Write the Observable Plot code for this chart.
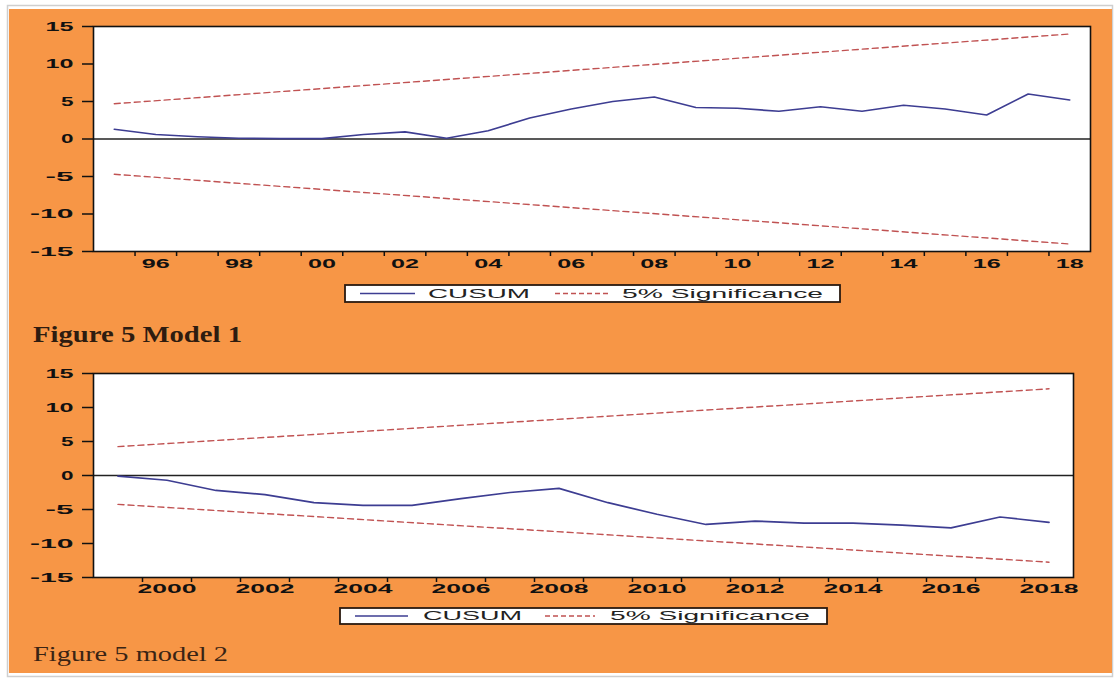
<!DOCTYPE html>
<html><head><meta charset="utf-8">
<script src="https://cdn.jsdelivr.net/npm/d3@7"></script>
<script src="https://cdn.jsdelivr.net/npm/@observablehq/plot@0.6"></script>
<style>
body{margin:0;background:#fff;width:1115px;height:682px;overflow:hidden;position:relative;font-family:"Liberation Sans",Arial,sans-serif;}
#bg{position:absolute;left:0;top:0;}
.panel{position:absolute;left:0;}
</style></head><body>
<svg id="bg" width="1115" height="682"></svg>
<div id="p1" class="panel" style="top:0px"></div>
<div id="p2" class="panel" style="top:340px"></div>
<script>
// ---- data ----
const years1 = [1995,1996,1997,1998,1999,2000,2001,2002,2003,2004,2005,2006,2007,2008,2009,2010,2011,2012,2013,2014,2015,2016,2017,2018];
const cusum1 = [1.3,0.6,0.3,0.1,0.05,0.05,0.6,0.95,0.1,1.1,2.8,4.0,5.0,5.6,4.2,4.1,3.7,4.3,3.7,4.5,4.0,3.2,6.0,5.2];
const boundYears1 = [1995, 2018];
const upper1 = [4.7, 14.0];
const lower1 = [-4.7, -14.0];

const years2 = [1999,2000,2001,2002,2003,2004,2005,2006,2007,2008,2009,2010,2011,2012,2013,2014,2015,2016,2017,2018];
const cusum2 = [-0.1,-0.7,-2.2,-2.8,-4.0,-4.4,-4.4,-3.4,-2.5,-1.9,-4.0,-5.7,-7.2,-6.7,-7.0,-7.0,-7.3,-7.7,-6.1,-6.9];
const boundYears2 = [1999, 2018];
const upper2 = [4.25, 12.75];
const lower2 = [-4.25, -12.75];

const yTicks = [-15,-10,-5,0,5,10,15];
const xLabels1 = [1996,1998,2000,2002,2004,2006,2008,2010,2012,2014,2016,2018];
const xLabels2 = [2000,2002,2004,2006,2008,2010,2012,2014,2016,2018];
const legendLabels = ["CUSUM", "5% Significance"];
const captions = ["Figure 5 Model 1", "Figure 5 model 2"];

// ---- background ----
const bg = d3.select("#bg");
bg.append("rect").attr("x",7.5).attr("y",5.5).attr("width",1105).attr("height",671)
  .attr("fill","#fff").attr("stroke","#cfcfcf").attr("stroke-width",1.5);
bg.append("rect").attr("x",9).attr("y",9).attr("width",1103).attr("height",664).attr("fill","#F79646");
bg.append("text").attr("x",33).attr("y",342).attr("font-family","Liberation Serif, serif")
  .attr("font-weight","bold").attr("font-size",23).attr("fill","#2e1c10")
  .attr("textLength",209).attr("lengthAdjust","spacingAndGlyphs").text(captions[0]);
bg.append("text").attr("x",33).attr("y",661).attr("font-family","Liberation Serif, serif")
  .attr("font-size",20).attr("fill","#3a2414")
  .attr("textLength",195).attr("lengthAdjust","spacingAndGlyphs").text(captions[1]);

const CUSUM_COLOR = "#3d3d92";
const SIG_COLOR = "#c05252";

function stretch(svg) {
  d3.select(svg).selectAll('g[aria-label$="tick label"] text').each(function() {
    const t = this.textContent;
    if (!t) return;
    const w = t.length * 15.5 - 3;
    d3.select(this).attr("textLength", w).attr("lengthAdjust","spacingAndGlyphs");
  });
}

function panel(o) {
  const cus = o.years.map((x,i)=>({x, y:o.cusum[i]}));
  const bu = o.by.map((x,i)=>({x, y:o.up[i]}));
  const bl = o.by.map((x,i)=>({x, y:o.lo[i]}));
  const bounds = o.years.slice(0,-1).map(y=>y+0.5);
  const svg = Plot.plot({
    width:1115, height:o.height,
    marginLeft:93, marginRight:o.mr, marginTop:o.mt, marginBottom:o.mb,
    style:{background:"transparent", fontFamily:"Liberation Sans, Arial, sans-serif", fontSize:"12.5px", fontWeight:"bold", color:"#111"},
    x:{domain:o.xDomain, label:null},
    y:{domain:[-15,15], label:null},
    marks:[
      Plot.frame({fill:"white", stroke:null}),
      Plot.ruleY([0], {stroke:"#222", strokeWidth:1.4}),
      Plot.line(bu, {x:"x", y:"y", stroke:SIG_COLOR, strokeWidth:1.4, strokeDasharray:"6,4"}),
      Plot.line(bl, {x:"x", y:"y", stroke:SIG_COLOR, strokeWidth:1.4, strokeDasharray:"6,4"}),
      Plot.line(cus, {x:"x", y:"y", stroke:CUSUM_COLOR, strokeWidth:1.7}),
      Plot.frame({stroke:"#111", strokeWidth:1.6}),
      Plot.axisY(yTicks, {tickSize:11, tickPadding:9, strokeWidth:1.5, label:null, tickFormat:d=>String(d)}),
      Plot.axisX(bounds, {tickSize:5, strokeWidth:1.5, label:null, tickFormat:()=>""}),
      Plot.axisX(o.xLabels, {tickSize:0, tickPadding:o.xPad, label:null, tickFormat:o.fmt})
    ]
  });
  stretch(svg);
  // legend
  const s = d3.select(svg), L = o.legend;
  const g = s.append("g").attr("text-anchor","start").attr("font-weight","normal");
  g.append("rect").attr("x",L.x0).attr("y",L.y0).attr("width",L.x1-L.x0).attr("height",L.y1-L.y0)
    .attr("fill","white").attr("stroke","#2a1a10").attr("stroke-width",1.8);
  const cy = (L.y0+L.y1)/2;
  g.append("line").attr("x1",L.l0).attr("x2",L.l1).attr("y1",cy).attr("y2",cy)
    .attr("stroke",CUSUM_COLOR).attr("stroke-width",1.7);
  g.append("text").attr("x",L.t0).attr("y",cy+4.3).attr("font-size",12).attr("text-anchor","start")
    .attr("fill","#222").attr("textLength",L.t0w).attr("lengthAdjust","spacingAndGlyphs").text(legendLabels[0]);
  g.append("line").attr("x1",L.d0).attr("x2",L.d1).attr("y1",cy).attr("y2",cy)
    .attr("stroke",SIG_COLOR).attr("stroke-width",1.3).attr("stroke-dasharray","5,3");
  g.append("text").attr("x",L.t1).attr("y",cy+4.3).attr("font-size",12).attr("text-anchor","start")
    .attr("fill","#222").attr("textLength",L.t1w).attr("lengthAdjust","spacingAndGlyphs").text(legendLabels[1]);
  return svg;
}

document.getElementById("p1").append(panel({
  years:years1, cusum:cusum1, by:boundYears1, up:upper1, lo:lower1,
  xDomain:[1994.5, 2018.5], xLabels:xLabels1, fmt:d=>String(d%100).padStart(2,"0"),
  height:310, mt:26, mb:59, mr:25, xPad:8,
  legend:{x0:345, x1:840, y0:285, y1:302, l0:360, l1:415, t0:428, t0w:102, d0:555, d1:610, t1:622, t1w:201}
}));
document.getElementById("p2").append(panel({
  years:years2, cusum:cusum2, by:boundYears2, up:upper2, lo:lower2,
  xDomain:[1998.5, 2018.5], xLabels:xLabels2, fmt:d=>String(d),
  height:300, mt:33, mb:63, mr:42, xPad:7,
  legend:{x0:340, x1:827, y0:268, y1:284, l0:355, l1:408, t0:423, t0w:99, d0:545, d1:595, t1:610, t1w:200}
}));
</script>
</body></html>
